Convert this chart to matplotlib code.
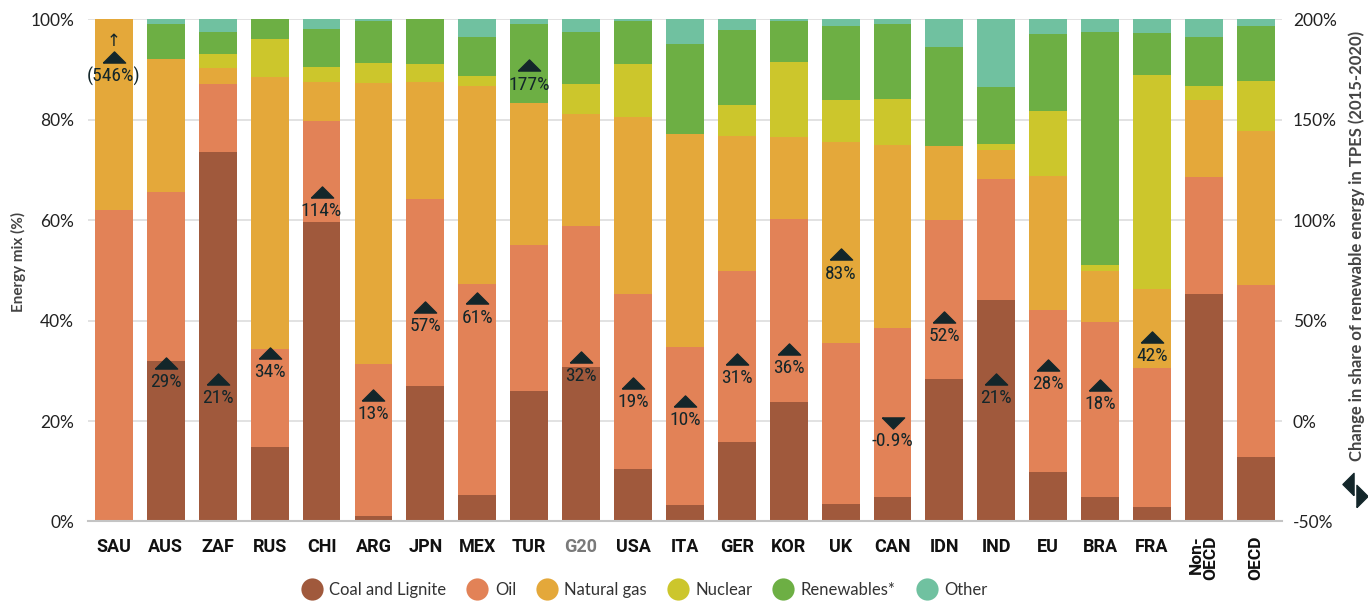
import matplotlib
matplotlib.use("Agg")
import matplotlib.pyplot as plt
from matplotlib.lines import Line2D
import numpy as np

# ----------------------------------------------------------------------
# Data (energy mix in % of TPES, stacked bottom-up)
# ----------------------------------------------------------------------
COUNTRIES = ["SAU", "AUS", "ZAF", "RUS", "CHI", "ARG", "JPN", "MEX", "TUR",
             "G20", "USA", "ITA", "GER", "KOR", "UK", "CAN", "IDN", "IND",
             "EU", "BRA", "FRA", "Non-\nOECD", "OECD"]

coal = [0.0, 32.0, 73.6, 14.8, 59.6, 1.0, 26.9, 5.2, 25.9,
        30.7, 10.5, 3.3, 15.8, 23.8, 3.4, 4.8, 28.4, 44.1,
        9.9, 4.8, 2.9, 45.3, 12.8]
oil = [62.0, 33.6, 13.5, 19.6, 20.1, 30.4, 37.3, 42.1, 29.2,
       28.2, 34.8, 31.4, 34.1, 36.5, 32.2, 33.7, 31.7, 24.1,
       32.2, 34.9, 27.6, 23.3, 34.3]
gas = [38.0, 26.5, 3.2, 54.1, 7.8, 56.0, 23.3, 39.4, 28.3,
       22.3, 35.3, 42.5, 26.9, 16.3, 40.0, 36.5, 14.7, 5.8,
       26.7, 10.2, 15.8, 15.4, 30.7]
nuclear = [0.0, 0.0, 2.8, 7.6, 3.0, 3.9, 3.5, 2.0, 0.0,
           6.0, 10.5, 0.0, 6.2, 14.9, 8.4, 9.2, 0.0, 1.2,
           13.0, 1.2, 42.6, 2.8, 9.9]
renewables = [0.0, 7.0, 4.4, 3.9, 7.6, 8.4, 9.0, 7.8, 15.7,
              10.3, 8.6, 17.9, 14.9, 8.2, 14.7, 14.9, 19.7, 11.4,
              15.3, 46.4, 8.4, 9.7, 11.0]
other = [0.0, 0.9, 2.5, 0.0, 1.9, 0.3, 0.0, 3.5, 0.9,
         2.5, 0.3, 4.9, 2.1, 0.3, 1.3, 0.9, 5.5, 13.4,
         2.9, 2.5, 2.7, 3.5, 1.3]

SOURCES = ["Coal and Lignite", "Oil", "Natural gas", "Nuclear",
           "Renewables*", "Other"]
COLORS = ["#a0593c", "#e28257", "#e4a83a", "#ccc62c", "#6daf44", "#70c1a0"]

# Change in share of renewables in TPES 2015-2020 (%); None = not shown
ren_change = [546, 29, 21, 34, 114, 13, 57, 61, 177,
              32, 19, 10, 31, 36, 83, -0.9, 52, 21,
              28, 18, 42, None, None]
ren_labels = ["(546%)", "29%", "21%", "34%", "114%", "13%", "57%", "61%",
              "177%", "32%", "19%", "10%", "31%", "36%", "83%", "-0.9%",
              "52%", "21%", "28%", "18%", "42%", "", ""]
MARKER_CAP = 181   # off-scale values drawn at the top with an arrow

MARK = "#13262a"
UP = [(-1, -0.5), (1, -0.5), (0, 0.5), (-1, -0.5)]
DOWN = [(-1, 0.5), (1, 0.5), (0, -0.5), (-1, 0.5)]
NARROW = ["Roboto Condensed", "Liberation Sans Narrow", "DejaVu Sans Condensed",
          "Roboto", "DejaVu Sans"]

plt.rcParams["font.family"] = ["Lato", "DejaVu Sans"]

fig = plt.figure(figsize=(13.68, 6.01), dpi=100)
ax = fig.add_axes([0.0643, 0.1323, 0.8727, 0.8357])

x = np.arange(len(COUNTRIES))
bottom = np.zeros(len(COUNTRIES))
series = [coal, oil, gas, nuclear, renewables, other]
for vals, col, name in zip(series, COLORS, SOURCES):
    ax.bar(x, vals, bottom=bottom, width=0.73, color=col, label=name,
           zorder=2, linewidth=0)
    bottom += np.array(vals)

ax.set_xlim(-0.5, len(COUNTRIES) - 0.5)
ax.set_ylim(0, 100)
ax.set_yticks([0, 20, 40, 60, 80, 100])
ax.set_yticklabels([f"{v}%" for v in [0, 20, 40, 60, 80, 100]])
ax.grid(axis="y", color="#dddddd", lw=1.2, zorder=0)
for s in ["top", "right", "left"]:
    ax.spines[s].set_visible(False)
ax.spines["bottom"].set_color("#c4c4c4")
ax.spines["bottom"].set_linewidth(1.5)
ax.tick_params(axis="both", length=0)
ax.tick_params(axis="y", pad=10, labelsize=12.5, labelcolor="#222222")
ax.set_xticks(x)
ax.set_xticklabels(["" if "\n" in c or c == "OECD" else c for c in COUNTRIES],
                   fontsize=13, fontweight="bold", family=["Roboto", "DejaVu Sans"],
                   color="#111111")
ax.tick_params(axis="x", pad=12)
for lbl in ax.get_xticklabels():
    if lbl.get_text() == "G20":
        lbl.set_color("#7a7a7a")
for i, c in enumerate(COUNTRIES):
    if "\n" in c or c == "OECD":
        ax.text(i, -2.8, c, rotation=90, ha="center", va="top",
                multialignment="right", fontsize=12.5, fontweight="bold",
                family=["Roboto", "DejaVu Sans"], color="#111111",
                linespacing=0.95, transform=ax.transData, clip_on=False)

fig.text(18 / 1368, 1 - 262 / 601, "Energy mix (%)", rotation=90,
         ha="center", va="center", fontsize=11, fontweight="bold",
         color="#444444")

# right axis: renewable share change markers
ax2 = ax.twinx()
ax2.set_ylim(-50, 200)
ax2.set_yticks([-50, 0, 50, 100, 150, 200])
ax2.set_yticklabels([f"{v}%" for v in [-50, 0, 50, 100, 150, 200]])
for s in ax2.spines.values():
    s.set_visible(False)
ax2.tick_params(axis="y", length=0, pad=8, labelsize=12.5, labelcolor="#222222")
fig.text(1357 / 1368, 1 - 246 / 601,
         "Change in share of renewable energy in TPES (2015-2020)",
         rotation=90, ha="center", va="center", fontsize=12,
         fontweight="bold", color="#444444")

lab_font = dict(family=NARROW, fontsize=14, color=MARK,
                ha="center", va="center")
for i, (v, lab) in enumerate(zip(ren_change, ren_labels)):
    if v is None:
        continue
    yv = min(v, MARKER_CAP)
    ax2.plot(i, yv, marker=UP if v >= 0 else DOWN, ms=16, color=MARK,
             ls="none", zorder=4)
    ax2.annotate(lab, (i, yv), xytext=(0, -14 if v >= 0 else -13),
                 textcoords="offset points", zorder=5, **lab_font)
    if v > MARKER_CAP:
        ax2.annotate("\u2191", (i, yv), xytext=(0, 12),
                     textcoords="offset points", zorder=5,
                     family="DejaVu Sans", fontsize=12, color=MARK,
                     ha="center", va="center")

# marker key under the right-axis title
fig.add_artist(Line2D([1348 / 1368], [1 - 484 / 601], transform=fig.transFigure,
                      marker=[(0.5, -1), (0.5, 1), (-0.5, 0), (0.5, -1)],
                      ms=16, color=MARK, ls="none"))
fig.add_artist(Line2D([1362 / 1368], [1 - 496 / 601], transform=fig.transFigure,
                      marker=[(-0.5, -1), (-0.5, 1), (0.5, 0), (-0.5, -1)],
                      ms=16, color=MARK, ls="none"))

handles = [Line2D([], [], marker="o", ls="none", ms=16, color=c,
                  markeredgewidth=0) for c in COLORS]
fig.legend(handles, SOURCES, loc="center", ncol=6,
           bbox_to_anchor=(645 / 1368, 1 - 590 / 601), frameon=False,
           fontsize=12, handlelength=1.1, handletextpad=0.5,
           columnspacing=1.3, labelcolor="#333333")

fig.savefig("out.png", dpi=100)
